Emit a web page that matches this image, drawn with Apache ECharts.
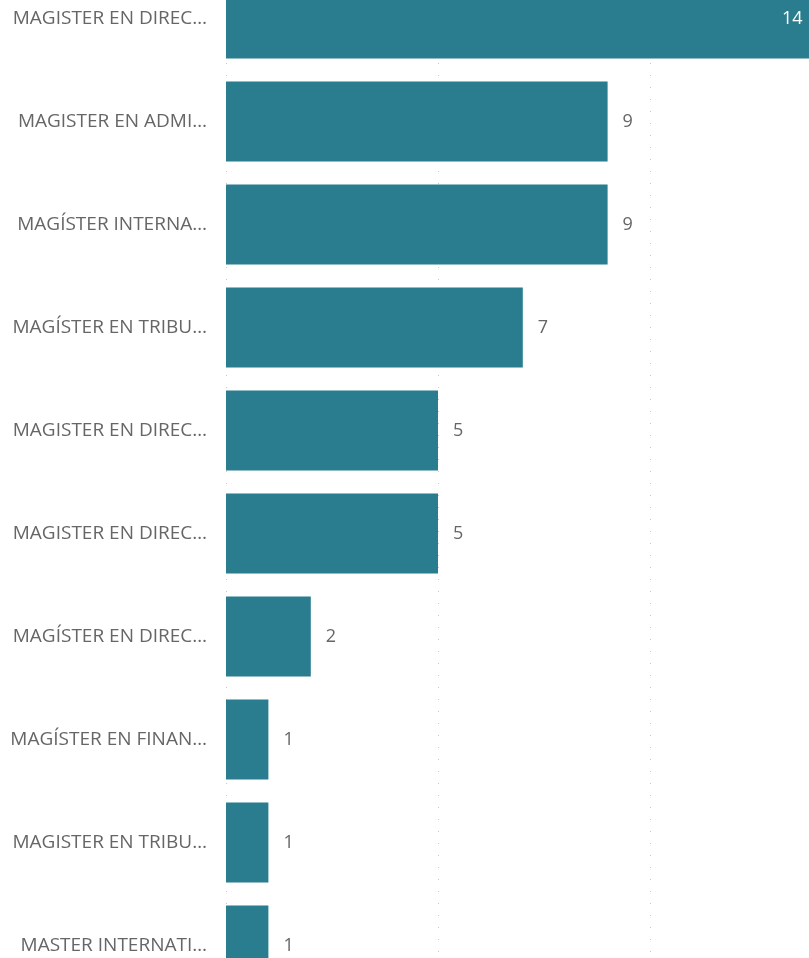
<!DOCTYPE html>
<html>
<head>
<meta charset="utf-8">
<script src="https://cdn.jsdelivr.net/npm/echarts@6/dist/echarts.min.js"></script>
<style>
html,body{margin:0;padding:0;background:#fff;overflow:hidden;width:809px;height:958px;position:relative;}
/* the reference is cropped on top, right and bottom, so the canvas overflows the window */
#chart{position:absolute;left:0;top:-33px;width:862px;height:1030px;}
</style>
</head>
<body>
<div id="chart"></div>
<script>
var categories = [
    'MAGISTER EN DIREC…',
    'MAGISTER EN ADMI…',
    'MAGÍSTER INTERNA…',
    'MAGÍSTER EN TRIBU…',
    'MAGISTER EN DIREC…',
    'MAGISTER EN DIREC…',
    'MAGÍSTER EN DIREC…',
    'MAGÍSTER EN FINAN…',
    'MAGISTER EN TRIBU…',
    'MASTER INTERNATI…'
];
var values = [14, 9, 9, 7, 5, 5, 2, 1, 1, 1];

var barColor = '#297d8e';
var fontFam = '"Open Sans", "Noto Sans", sans-serif';

var seriesData = values.map(function (v, i) {
    if (i === 0) {
        return {value: v, label: {position: 'insideRight', distance: 17, color: '#ffffff'}};
    }
    return v;
});

var chart = echarts.init(document.getElementById('chart'));
var opt = {
    animation: false,
    grid: {left: 226, right: 0, top: 0, bottom: 0},
    xAxis: {
        type: 'value',
        min: 0,
        max: 15,
        interval: 5,
        axisLabel: {show: false},
        axisLine: {show: false},
        axisTick: {show: false},
        splitLine: {show: true, lineStyle: {color: '#c8c8c8', type: [1, 11], width: 1}}
    },
    yAxis: {
        type: 'category',
        data: categories,
        inverse: true,
        axisLine: {show: false},
        axisTick: {show: false},
        axisLabel: {margin: 19, color: '#666666', fontSize: 19, fontFamily: fontFam, padding: [7, 0, 0, 0]}
    },
    series: [{
        type: 'bar',
        data: seriesData,
        barWidth: 80,
        itemStyle: {color: barColor},
        label: {
            show: true,
            position: 'right',
            distance: 15,
            color: '#666666',
            fontSize: 18,
            fontFamily: fontFam,
            padding: [7, 0, 0, 0]
        }
    }]
};
chart.setOption(opt);
</script>
</body>
</html>
